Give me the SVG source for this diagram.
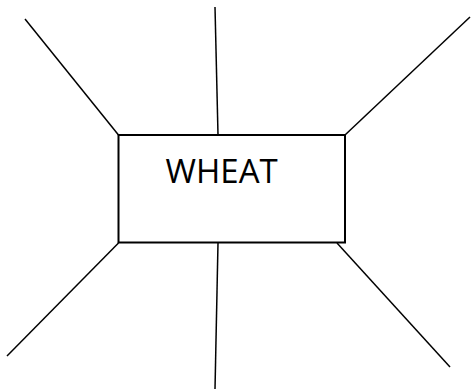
<svg xmlns="http://www.w3.org/2000/svg" width="473" height="389" viewBox="0 0 473 389">
<style>
.ln{stroke:#000;stroke-width:1.5;fill:none}
.box{stroke:#000;stroke-width:2;fill:#fff}
.lbl{font-family:"Open Sans","Liberation Sans",sans-serif;font-size:33px;fill:#000}
</style>
<rect width="473" height="389" fill="#fff"/>
<g id="connectors">
<line class="ln" x1="25" y1="19" x2="118.5" y2="135"/>
<line class="ln" x1="215" y1="7" x2="218" y2="135"/>
<line class="ln" x1="470" y1="17" x2="345" y2="135"/>
<line class="ln" x1="118.5" y1="243" x2="7" y2="356"/>
<line class="ln" x1="218" y1="243" x2="215" y2="389"/>
<line class="ln" x1="337" y1="243" x2="450" y2="367"/>
</g>
<g id="wheat">
<rect class="box" x="118.5" y="135" width="226.5" height="107.5"/>
<text class="lbl" x="165.5" y="183.3">WHEAT</text>
</g>
</svg>
